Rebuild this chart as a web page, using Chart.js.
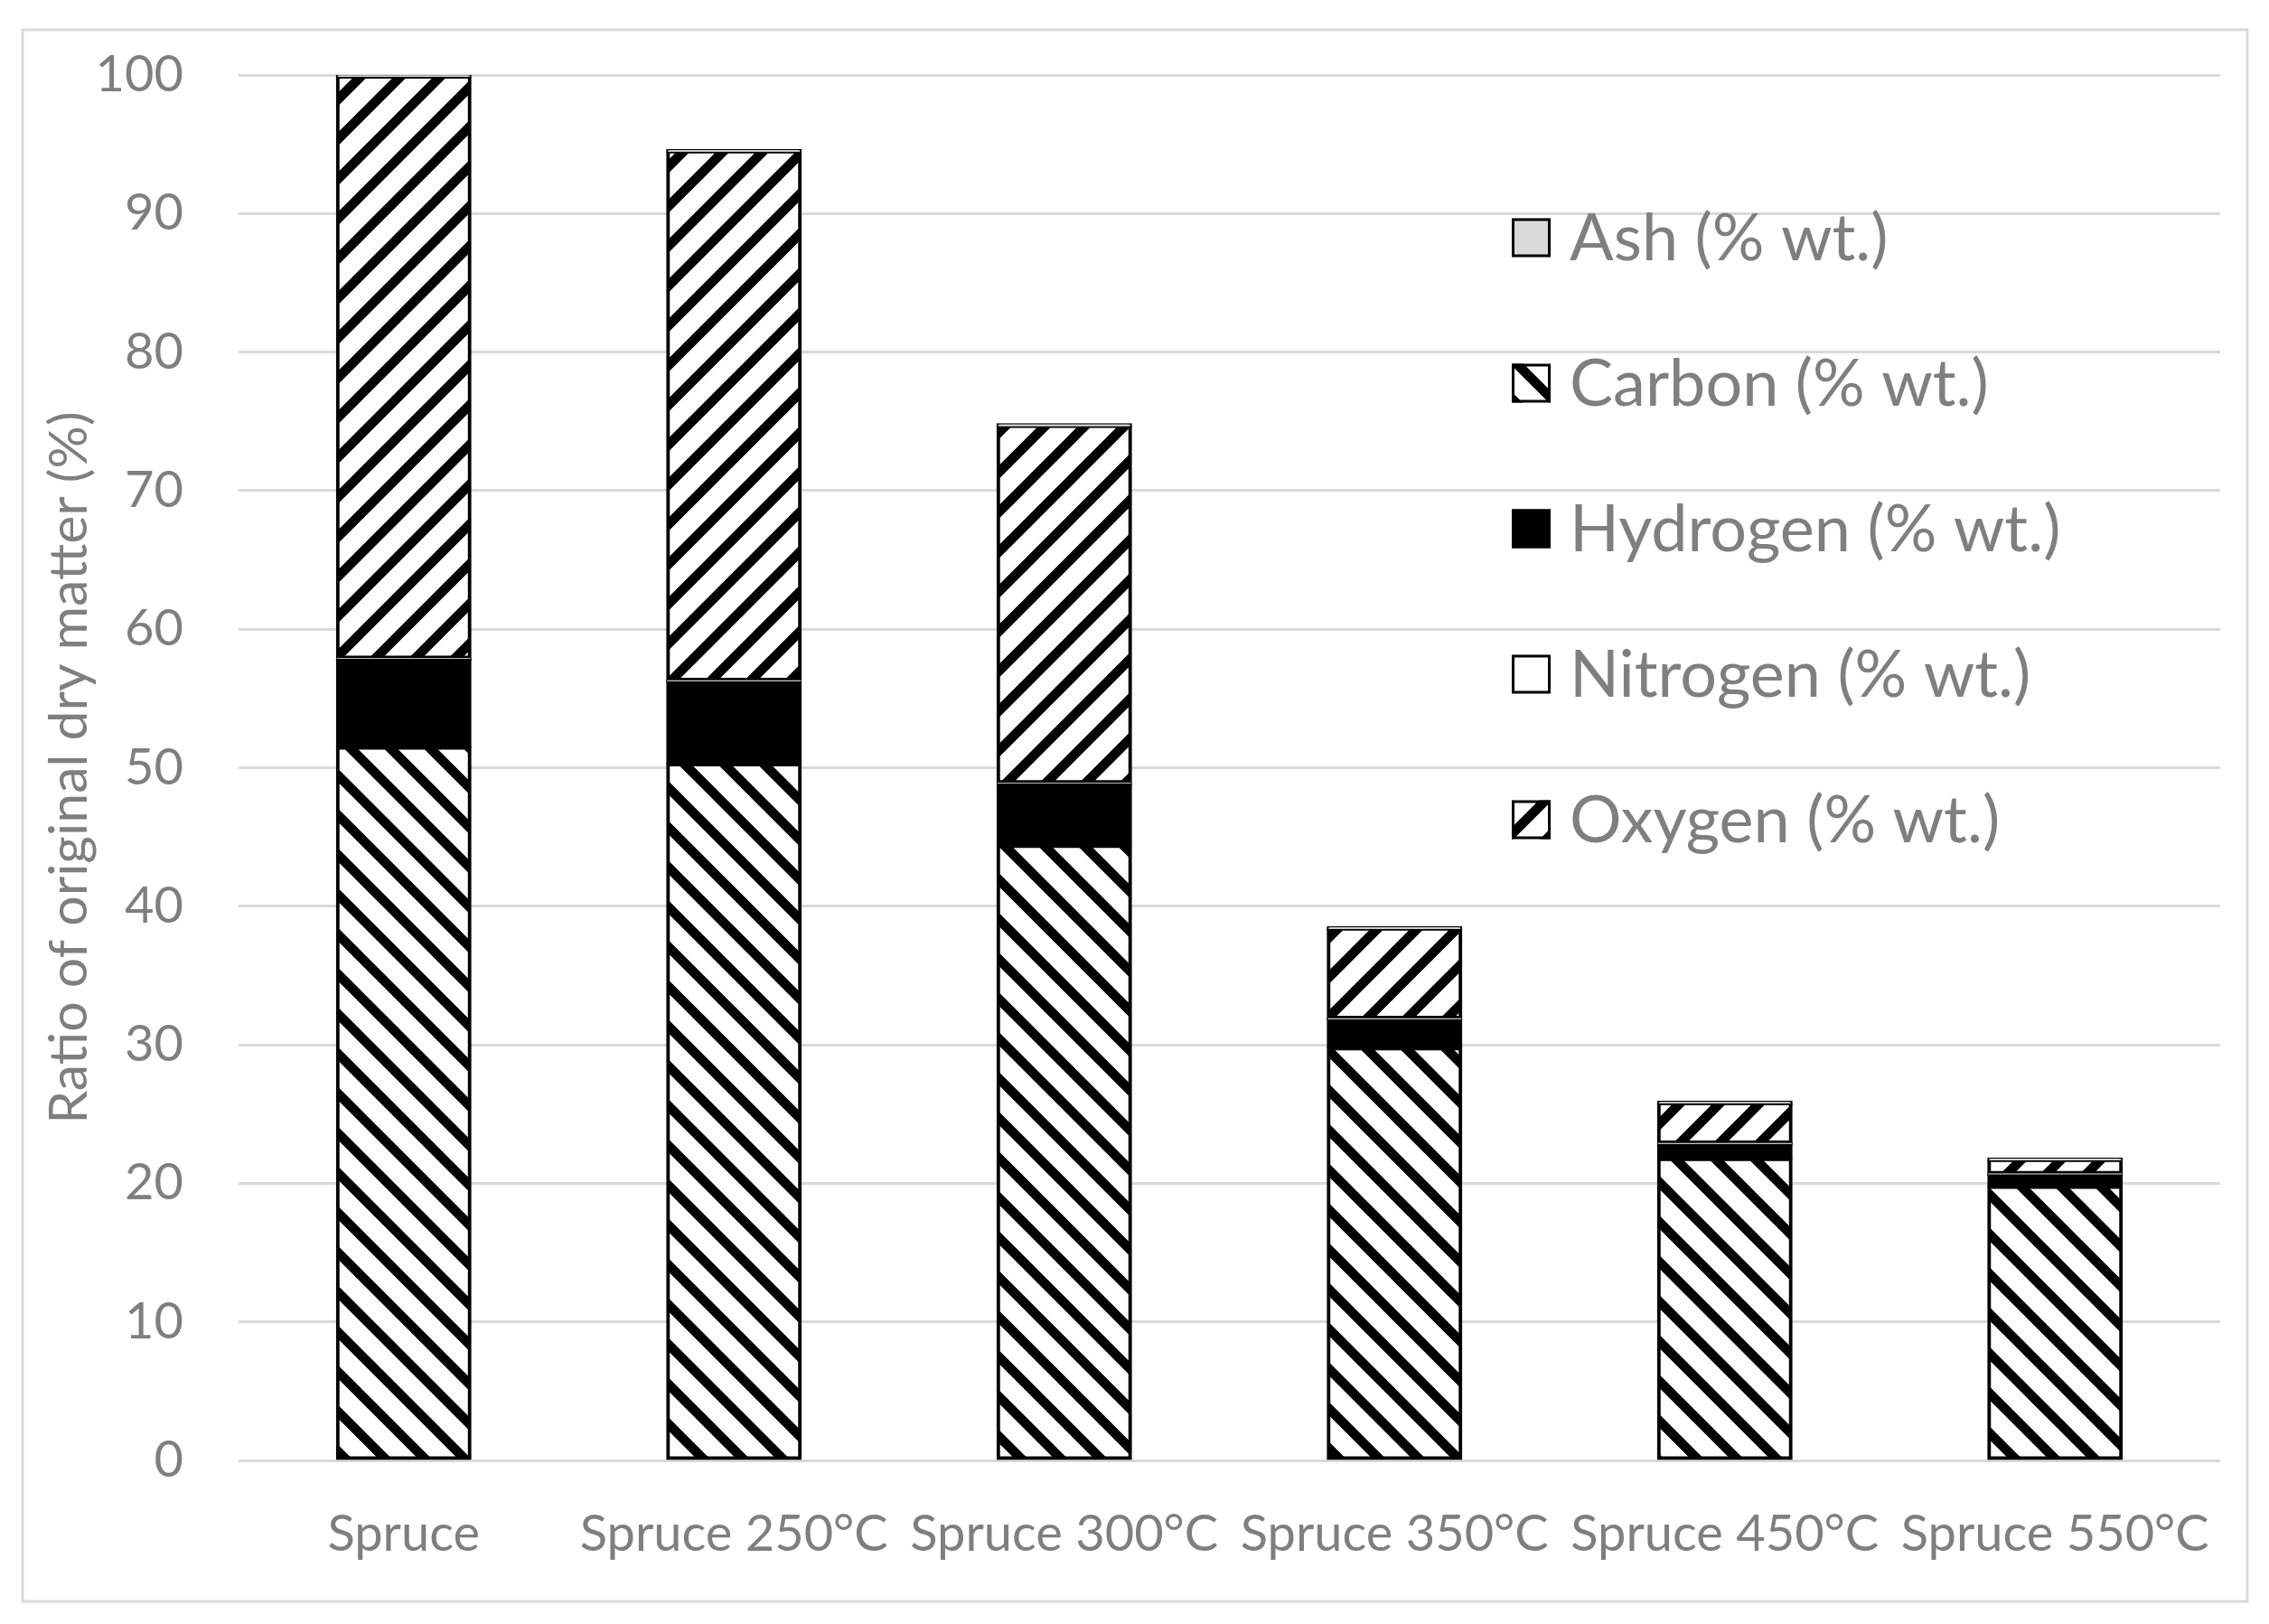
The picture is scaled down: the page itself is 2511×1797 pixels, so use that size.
<!DOCTYPE html>
<html>
<head>
<meta charset="utf-8">
<title>Spruce char – elemental composition</title>
<script src="https://cdn.jsdelivr.net/npm/chart.js@4.4.1/dist/chart.umd.min.js"></script>
<style>
    html, body { margin: 0; padding: 0; background: #fff; }
    #wrap { width: 2511px; height: 1797px; }
</style>
</head>
<body>
<div id="wrap"><canvas id="chart" width="2511" height="1797"></canvas></div>
<script>
// ── Data (ratio of original dry matter, %) ──────────────────────────────
const categories = ['Spruce', 'Spruce 250°C', 'Spruce 300°C', 'Spruce 350°C', 'Spruce 450°C', 'Spruce 550°C'];
const carbon   = [51.5, 50.3, 44.4, 29.8, 21.8, 19.8];
const hydrogen = [6.3, 5.9, 4.4, 2.0, 1.0, 0.8];
const nitrogen = [0.1, 0.1, 0.1, 0.1, 0.1, 0.1];
const oxygen   = [41.9, 38.1, 25.7, 6.4, 2.8, 0.9];
const ash      = [0.2, 0.2, 0.2, 0.2, 0.2, 0.2];
const yTicks   = [0, 10, 20, 30, 40, 50, 60, 70, 80, 90, 100];

const FONT   = 'Lato, "Open Sans", sans-serif';
const GREY   = '#7f7f7f';
const GRID   = '#d9d9d9';

const canvas = document.getElementById('chart');
const ctx0   = canvas.getContext('2d');

// diagonal stripe fill, 'up' = ///  'down' = \\\
function stripes(dir) {
    const w = 44, h = 44;
    const c = document.createElement('canvas');
    c.width = w; c.height = h;
    const g = c.getContext('2d');
    g.fillStyle = '#fff';
    g.fillRect(0, 0, w, h);
    g.strokeStyle = '#000';
    g.lineWidth = 10.5;
    g.beginPath();
    for (let k = -1; k <= 1; k++) {
        if (dir === 'up') { g.moveTo(k * w - w, 2 * h); g.lineTo(k * w + 2 * w, -h); }
        else              { g.moveTo(k * w - w, -h);    g.lineTo(k * w + 2 * w, 2 * h); }
    }
    g.stroke();
    return ctx0.createPattern(c, 'repeat');
}

// ── Plugins: white page + frame, and the legend inside the plot ─────────
const frame = {
    id: 'frame',
    beforeDraw(chart) {
        const c = chart.ctx;
        c.save();
        c.fillStyle = '#fff';
        c.fillRect(0, 0, chart.width, chart.height);
        c.strokeStyle = GRID;
        c.lineWidth = 3;
        c.strokeRect(25, 33, 2462, 1739);
        c.restore();
    }
};

const sideLegend = {
    id: 'sideLegend',
    afterDraw(chart) {
        const c = chart.ctx;
        const items = chart.data.datasets.slice().sort((a, b) => a.label.localeCompare(b.label));
        const x = 1673, s = 43, y0 = 263, step = 161;
        c.save();
        c.font = '72px ' + FONT;
        c.textBaseline = 'middle';
        items.forEach(function (ds, i) {
            const cy = y0 + i * step;
            c.fillStyle = ds.legendFill || ds.backgroundColor;
            c.fillRect(x, cy - s / 2, s, s);
            c.lineWidth = 3;
            c.strokeStyle = '#000';
            c.strokeRect(x + 1.5, cy - s / 2 + 1.5, s - 3, s - 3);
            c.fillStyle = GREY;
            c.fillText(ds.label, 1737, cy + 2);
        });
        c.restore();
    }
};

function series(label, data, fill, border) {
    return {
        label: label,
        data: data,
        backgroundColor: fill,
        borderColor: '#000',
        borderWidth: border,
        borderSkipped: false,
        inflateAmount: 1
    };
}

new Chart(canvas, {
    type: 'bar',
    data: {
        labels: categories,
        datasets: [
            series('Carbon (% wt.)',   carbon,   stripes('down'), 4),
            series('Hydrogen (% wt.)', hydrogen, '#000', 4),
            series('Nitrogen (% wt.)', nitrogen, '#fff', 1),
            series('Oxygen (% wt.)',   oxygen,   stripes('up'), { left: 4, right: 4, bottom: 4, top: 2 }),
            series('Ash (% wt.)',      ash,      '#d9d9d9', 2)
        ]
    },
    options: {
        responsive: false,
        animation: false,
        layout: { padding: { left: 0, right: 54, top: 83, bottom: 0 } },
        datasets: { bar: { categoryPercentage: 1, barPercentage: 0.405 } },
        plugins: {
            legend: { display: false },
            tooltip: { enabled: false }
        },
        scales: {
            x: {
                stacked: true,
                grid: { display: false, drawTicks: false },
                border: { display: false },
                ticks: { color: GREY, font: { family: FONT, size: 56 }, padding: 48, maxRotation: 0, autoSkip: false },
                afterFit: function (s) { s.height = 181; }
            },
            y: {
                stacked: true,
                min: 0,
                max: 100,
                afterBuildTicks: function (s) { s.ticks = yTicks.map(v => ({ value: v })); },
                grid: { color: GRID, lineWidth: 3, drawTicks: false },
                border: { display: false },
                ticks: { color: GREY, font: { family: FONT, size: 56 }, padding: 61 },
                title: {
                    display: true,
                    text: 'Ratio of original dry matter (%)',
                    color: GREY,
                    font: { family: FONT, size: 59 },
                    padding: { top: 42, bottom: 0 }
                },
                afterFit: function (s) {
                    s.width = 264;
                    // tick padding should only push labels sideways, not shrink the plot
                    s.paddingTop = 0;
                    s.paddingBottom = 0;
                }
            }
        }
    },
    plugins: [frame, sideLegend]
});
</script>
</body>
</html>
